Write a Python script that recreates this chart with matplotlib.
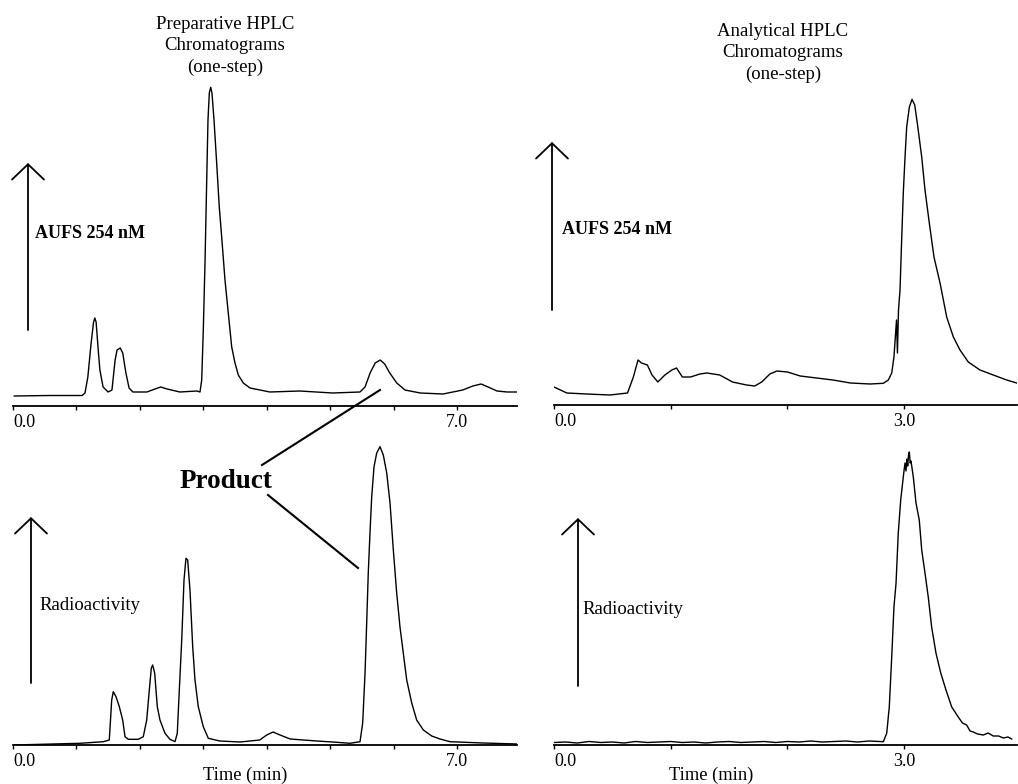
import matplotlib.pyplot as plt
from matplotlib.patches import FancyArrowPatch

plt.rcParams['font.family'] = ['Liberation Serif', 'DejaVu Serif']

# preparative run, UV trace (time in min, detector response in arbitrary units)
prep_uv_t = [0.02, 0.58, 1.09, 1.135, 1.18, 1.23, 1.27, 1.29, 1.31, 1.345, 1.37, 1.42, 1.50,
             1.56, 1.61, 1.64, 1.69, 1.73, 1.78, 1.83, 1.89, 2.11, 2.24, 2.33, 2.43, 2.63,
             2.90, 2.948, 2.975, 3.00, 3.027, 3.054, 3.074, 3.095, 3.117, 3.137, 3.169,
             3.211, 3.252, 3.29, 3.342, 3.394, 3.448, 3.50, 3.552, 3.631, 3.736, 3.894,
             4.05, 4.52, 5.04, 5.47, 5.55, 5.63, 5.71, 5.79, 5.86, 5.94, 6.05, 6.18, 6.42,
             6.78, 7.09, 7.25, 7.38, 7.49, 7.63, 7.79, 7.95]
prep_uv_s = [10, 10.5, 10.5, 13, 29, 62, 84, 88, 84, 55, 36, 19, 14,
             16, 46, 56, 58, 53, 33, 18, 14, 14, 17, 19, 17, 14,
             15, 14, 26, 76, 143, 226, 286, 313, 318.7, 313, 286,
             243, 199, 169, 126, 93, 59, 43, 31, 23, 18, 16,
             14, 15, 13, 14, 19, 33, 43, 46, 42, 33, 23, 16, 13,
             12, 16, 20, 22, 19, 15, 14, 14]

# preparative run, radioactivity trace
prep_rad_t = [0.02, 1.056, 1.424, 1.518, 1.556, 1.581, 1.624, 1.676, 1.729, 1.766, 1.818,
              1.975, 2.054, 2.108, 2.149, 2.18, 2.202, 2.234, 2.275, 2.317, 2.396, 2.475,
              2.554, 2.59, 2.622, 2.66, 2.696, 2.727, 2.754, 2.79, 2.833, 2.869, 2.921,
              3.00, 3.079, 3.26, 3.58, 3.89, 4.00, 4.10, 4.21, 4.37, 4.79, 5.04, 5.313,
              5.471, 5.513, 5.55, 5.576, 5.601, 5.628, 5.655, 5.691, 5.734, 5.786, 5.838,
              5.892, 5.944, 5.996, 6.049, 6.101, 6.153, 6.207, 6.286, 6.364, 6.469, 6.601,
              6.732, 6.89, 7.41, 7.95]
prep_rad_s = [0, 1.7, 3.3, 5, 45, 53.3, 48.3, 38.3, 25, 8.3, 5.7,
              5.7, 8.3, 25, 55, 76.7, 80, 71.7, 38.3, 25, 11.7, 5.7,
              3.3, 11.7, 55, 105, 165, 186.7, 185, 155, 98.3, 65, 38.3,
              18.3, 6.7, 4, 3, 5, 10, 13, 10, 6, 4, 3, 1.7,
              3.3, 22, 72, 122, 172, 212, 248, 278, 292, 298.3, 290,
              272, 242, 195, 152, 118, 92, 65, 42, 25, 15, 9,
              6, 3.3, 2, 1]

# analytical run, UV trace
anal_uv_t = [0.00, 0.11, 0.28, 0.48, 0.63, 0.68, 0.72, 0.75, 0.80, 0.84, 0.89, 0.95, 1.01,
             1.05, 1.10, 1.17, 1.25, 1.31, 1.42, 1.53, 1.65, 1.72, 1.78, 1.85, 1.91, 2.00,
             2.11, 2.25, 2.39, 2.54, 2.708, 2.822, 2.865, 2.894, 2.913, 2.935, 2.943, 2.952,
             2.965, 2.979, 2.993, 3.008, 3.022, 3.045, 3.068, 3.091, 3.113, 3.151, 3.179,
             3.216, 3.256, 3.308, 3.365, 3.422, 3.479, 3.55, 3.65, 3.764, 3.879, 3.965]
anal_uv_s = [18, 12, 11, 10, 12, 28, 45, 42, 40, 30, 23, 30, 35,
             37, 28, 28, 31, 32, 30, 23, 20, 19, 23, 31, 34, 33,
             29, 27, 25, 22, 21, 21.7, 25, 32, 48, 85, 52, 95,
             115, 165, 212, 248, 278, 298, 305.7, 300, 282, 248, 215,
             182, 148, 122, 88, 68, 55, 43, 35, 30, 25, 22]

# analytical run, radioactivity trace
anal_rad_t = [0.00, 0.10, 0.20, 0.30, 0.40, 0.50, 0.60, 0.70, 0.80, 0.90, 1.00, 1.10, 1.20,
              1.30, 1.40, 1.50, 1.60, 1.70, 1.80, 1.90, 2.00, 2.10, 2.20, 2.30, 2.40, 2.50,
              2.60, 2.70, 2.822, 2.851, 2.873, 2.894, 2.913, 2.931, 2.95, 2.971, 2.993,
              3.00, 3.008, 3.016, 3.024, 3.031, 3.038, 3.045, 3.052, 3.059, 3.079, 3.102,
              3.13, 3.151, 3.179, 3.207, 3.236, 3.273, 3.314, 3.359, 3.408, 3.464, 3.50,
              3.536, 3.565, 3.593, 3.63, 3.679, 3.72, 3.764, 3.81, 3.85, 3.89, 3.922]
anal_rad_s = [2.5, 3, 2, 3.5, 2.5, 3, 2, 3.5, 2.5, 3, 3.5, 2.5, 3,
              2, 3, 3.5, 2.5, 3, 3.5, 2.5, 3.5, 3, 4, 3, 3.5, 4,
              3, 4, 3.3, 11.7, 38, 88, 138, 162, 212, 245, 268,
              275, 282, 274, 286, 279, 290, 293, 282, 284, 268, 242,
              225, 195, 172, 148, 118, 92, 72, 55, 38, 28, 22,
              20, 14, 13, 11, 10, 12, 9, 9, 7, 8, 6]

fig = plt.figure(figsize=(10.18, 7.84), dpi=100)
W, H = 1018.0, 784.0


def add_panel(left, right, axis_y, top, xmax, ticks):
    ax = fig.add_axes([left / W, 1 - axis_y / H, (right - left) / W, (axis_y - top) / H])
    ax.set_xlim(0, xmax)
    ax.set_ylim(0, axis_y - top)
    for s in ['top', 'left', 'right']:
        ax.spines[s].set_visible(False)
    ax.spines['bottom'].set_linewidth(1.3)
    ax.set_yticks([])
    ax.set_xticks(range(ticks + 1))
    labels = ['' for _ in range(ticks + 1)]
    labels[0] = '0.0'
    labels[-1] = '%.1f' % ticks
    ax.set_xticklabels(labels)
    ax.get_xticklabels()[0].set_ha('left')
    ax.tick_params(axis='x', direction='out', length=3, width=1, pad=3, labelsize=13)
    ax.patch.set_visible(False)
    return ax


ax_pu = add_panel(13, 517, 406, 80, 504 / 63.43, 7)
ax_pr = add_panel(13, 517, 745, 425, 504 / 63.43, 7)
ax_au = add_panel(554, 1017, 405, 80, 463 / 116.7, 3)
ax_ar = add_panel(554, 1017, 745, 425, 463 / 116.7, 3)

for ax, t, s in [(ax_pu, prep_uv_t, prep_uv_s), (ax_pr, prep_rad_t, prep_rad_s),
                 (ax_au, anal_uv_t, anal_uv_s), (ax_ar, anal_rad_t, anal_rad_s)]:
    ax.plot(t, s, color='black', lw=1.0, solid_joinstyle='round')


def fig_xy(x, y):
    return (x / W, 1 - y / H)


def up_arrow(x, y0, y1):
    fig.add_artist(FancyArrowPatch(
        fig_xy(x, y0), fig_xy(x, y1), transform=fig.transFigure,
        arrowstyle='->,head_length=1.1,head_width=1.15', mutation_scale=10,
        lw=1.3, color='black', shrinkA=0, shrinkB=0))


up_arrow(28, 330, 163)
up_arrow(552, 310, 142)
up_arrow(31, 683, 517)
up_arrow(578, 686, 518)

fig.text(*fig_xy(35, 233), 'AUFS 254 nM', fontsize=13, fontweight='bold', va='center')
fig.text(*fig_xy(562, 229), 'AUFS 254 nM', fontsize=13, fontweight='bold', va='center')
fig.text(*fig_xy(39, 606), 'Radioactivity', fontsize=13.5, va='center')
fig.text(*fig_xy(582, 609), 'Radioactivity', fontsize=13.5, va='center')

fig.text(*fig_xy(225, 46), 'Preparative HPLC\nChromatograms\n(one-step)',
         fontsize=13.5, ha='center', va='center', linespacing=1.3)
fig.text(*fig_xy(783, 53), 'Analytical HPLC\nChromatograms\n(one-step)',
         fontsize=13.5, ha='center', va='center', linespacing=1.3)

fig.text(*fig_xy(245, 775), 'Time (min)', fontsize=13.3, ha='center', va='center')
fig.text(*fig_xy(711, 775), 'Time (min)', fontsize=13.3, ha='center', va='center')

fig.text(*fig_xy(226, 482), 'Product', fontsize=19.5, fontweight='bold',
         ha='center', va='center')
for x0, y0, x1, y1 in [(262, 465, 380, 390), (268, 495, 358, 568)]:
    fig.add_artist(plt.Line2D([x0 / W, x1 / W], [1 - y0 / H, 1 - y1 / H],
                              transform=fig.transFigure, color='black', lw=1.5))

fig.savefig('out.png', dpi=100)
